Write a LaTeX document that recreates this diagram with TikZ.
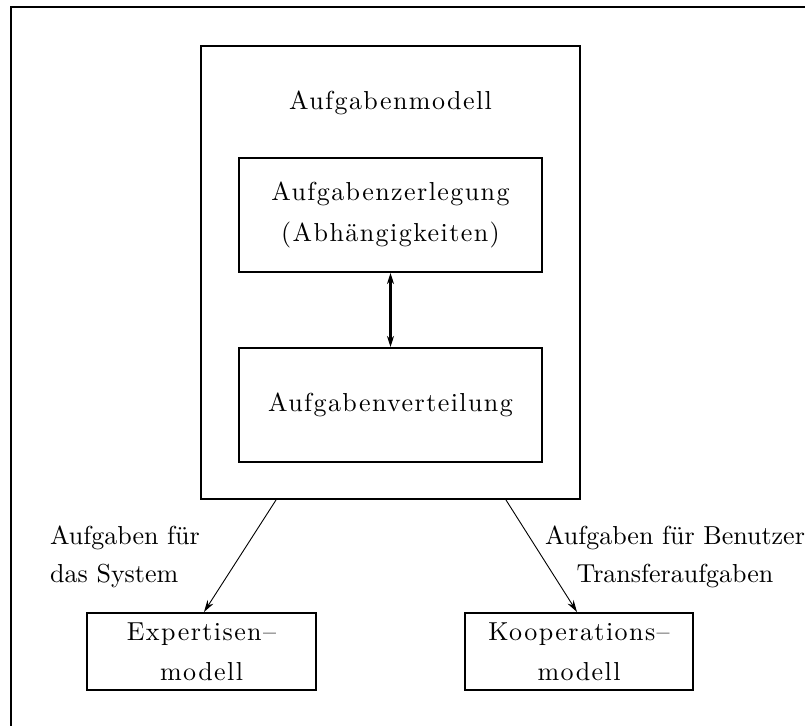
\documentclass[tikz,border=0pt]{standalone}
\usepackage{fontspec}
\usetikzlibrary{arrows.meta}
% Latin Modern; the box captions carry a little tracking
\newfontfamily\boxfont{lmroman10-regular}[Extension=.otf, LetterSpace=5.5]
\newfontfamily\labelfont{lmroman10-regular}[Extension=.otf]

\begin{document}
\begin{tikzpicture}[x=1pt, y=-1pt,
  frame/.style={draw, line width=2pt},
  box/.style={draw, line width=2pt, inner sep=0pt, align=center,
    font=\boxfont\fontsize{26pt}{41pt}\selectfont},
  smallbox/.style={box, font=\boxfont\fontsize{26pt}{40pt}\selectfont},
  title/.style={inner sep=0pt, font=\boxfont\fontsize{26pt}{30pt}\selectfont},
  lbl/.style={inner sep=0pt, font=\labelfont\fontsize{26pt}{38pt}\selectfont},
  link/.style={line width=2.6pt, {Stealth[length=11pt,width=7pt]}-{Stealth[length=11pt,width=7pt]}},
  flow/.style={line width=0.9pt, -{Stealth[length=12pt,width=7pt]}}
]
\useasboundingbox (0,0) rectangle (805,725);
\clip (0,0) rectangle (805,725);

% outer frame, running past the right and lower edges
\draw[frame] (11,7) rectangle (830,750);

% task model with its two parts
\node[box, minimum width=379pt, minimum height=453pt] (am) at (390.5,272.5) {};
\node[title, anchor=base] (amtitle) at (390.5,109.5) {Aufgabenmodell};
\node[box, minimum width=303pt, minimum height=114pt] (az) at (390.5,215)
  {Aufgabenzerlegung\\(Abhängigkeiten)};
\node[box, minimum width=303pt, minimum height=114pt] (av) at (390.5,405)
  {Aufgabenverteilung};
\draw[link] (az.south) -- (av.north);

% target models
\node[smallbox, minimum width=229pt, minimum height=77pt] (exp) at (201.5,651.5)
  {Expertisen–\\modell};
\node[smallbox, minimum width=228pt, minimum height=77pt] (koop) at (579,651.5)
  {Kooperations–\\modell};

\draw[flow] (am.south -| 276,0) -- (exp.north -| 204,0);
\draw[flow] (am.south -| 506,0) -- (koop.north -| 577,0);

% connector labels
\node[lbl, align=left, anchor=north west] (lsys) at (50,526)
  {Aufgaben für\\das System};
\node[lbl, align=center, anchor=north] (lben) at (675,526)
  {Aufgaben für Benutzer\\Transferaufgaben};
\end{tikzpicture}
\end{document}
